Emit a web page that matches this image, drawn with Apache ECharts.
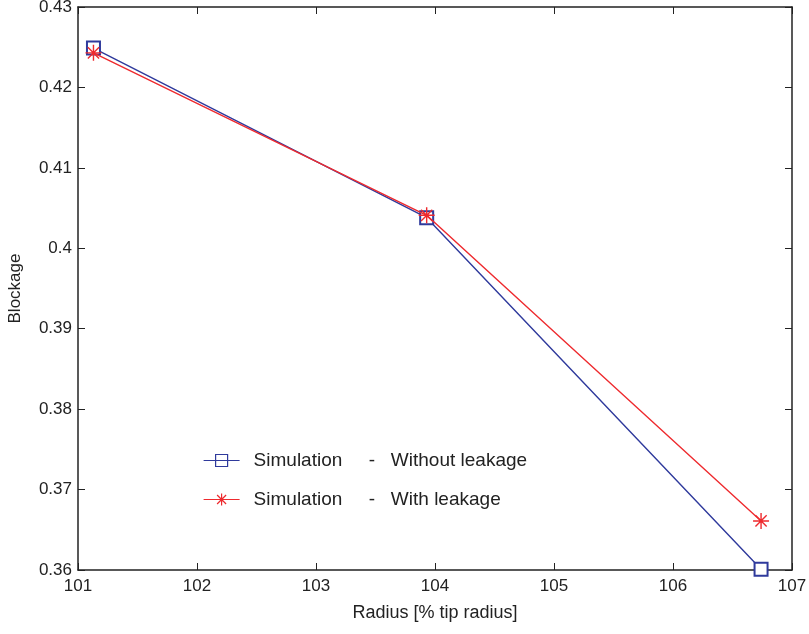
<!DOCTYPE html>
<html>
<head>
<meta charset="UTF-8">
<title>Blockage</title>
<script src="https://cdn.jsdelivr.net/npm/echarts@6/dist/echarts.min.js"></script>
<style>
  html, body { margin: 0; padding: 0; background: #fff; }
  #chart { width: 809px; height: 634px; }
</style>
</head>
<body>
<div id="chart"></div>
<script>
// data
var radius = [101.13, 103.93, 106.74];
var withoutLeakage = [0.4249, 0.4038, 0.3601];
var withLeakage = [0.4243, 0.4041, 0.3661];
var seriesNames = ['Simulation     -   Without leakage', 'Simulation     -   With leakage'];

var blue = '#2f3a9c';
var red = '#ee2a2e';
var star = 'path://M0,-10L0,10M-10,0L10,0M-7,-7L7,7M-7,7L7,-7';
// legend icons: short line with the marker in the middle
var blueIcon = 'path://M0,6L36,6M12,0L24,0L24,12L12,12Z';
var redIcon = 'path://M0,6L36,6M18,0L18,12M12,6L24,6M13.5,1.5L22.5,10.5M13.5,10.5L22.5,1.5';
var font = 'Liberation Sans, Arial, sans-serif';

function pairs(xs, ys) {
  var out = [];
  for (var i = 0; i < xs.length; i++) out.push([xs[i], ys[i]]);
  return out;
}

var chart = echarts.init(document.getElementById('chart'));
var tickIn = { show: true, inside: true, length: 7, lineStyle: { color: '#222', width: 1 } };
var line = { show: true, lineStyle: { color: '#222', width: 1.5 } };

chart.setOption({
  animation: false,
  grid: { left: 78, right: 17, top: 7, bottom: 64, outerBoundsMode: 'none' },
  legend: {
    orient: 'vertical',
    left: 198,
    top: 446,
    itemWidth: 36,
    itemHeight: 12,
    itemGap: 20,
    textStyle: { fontFamily: font, fontSize: 19, color: '#222', padding: [0, 0, 0, 9] },
    data: [
      { name: seriesNames[0], icon: blueIcon,
        itemStyle: { color: 'transparent', borderColor: blue, borderWidth: 1.2 } },
      { name: seriesNames[1], icon: redIcon,
        itemStyle: { color: 'transparent', borderColor: red, borderWidth: 1.2 } }
    ]
  },
  xAxis: [{
    type: 'value', min: 101, max: 107, interval: 1,
    name: 'Radius [% tip radius]', nameLocation: 'middle', nameGap: 34,
    nameTextStyle: { fontFamily: font, fontSize: 18, color: '#222' },
    axisLine: line, axisTick: tickIn, splitLine: { show: false },
    axisLabel: { fontFamily: font, fontSize: 17, color: '#222', margin: 8 }
  }, {
    type: 'value', min: 101, max: 107, interval: 1, position: 'top',
    axisLine: line, axisTick: tickIn, splitLine: { show: false },
    axisLabel: { show: false }
  }],
  yAxis: [{
    type: 'value', min: 0.36, max: 0.43, interval: 0.01,
    name: 'Blockage', nameLocation: 'middle', nameGap: 54,
    nameTextStyle: { fontFamily: font, fontSize: 17, color: '#222' },
    axisLine: line, axisTick: tickIn, splitLine: { show: false },
    axisLabel: {
      fontFamily: font, fontSize: 17, color: '#222', margin: 6,
      formatter: function (v) { return String(Math.round(v * 100) / 100); }
    }
  }, {
    type: 'value', min: 0.36, max: 0.43, interval: 0.01, position: 'right',
    axisLine: line, axisTick: tickIn, splitLine: { show: false },
    axisLabel: { show: false }
  }],
  series: [{
    name: seriesNames[0],
    type: 'line',
    data: pairs(radius, withoutLeakage),
    symbol: 'emptyRect',
    symbolSize: 13,
    color: blue,
    lineStyle: { color: blue, width: 1.4 },
    itemStyle: { color: blue, borderColor: blue, borderWidth: 1.4 },
    z: 2
  }, {
    name: seriesNames[1],
    type: 'line',
    data: pairs(radius, withLeakage),
    symbol: star,
    symbolSize: 16,
    color: red,
    lineStyle: { color: red, width: 1.4 },
    itemStyle: { color: red, borderColor: red, borderWidth: 1.4 },
    z: 3
  }]
});
</script>
</body>
</html>
